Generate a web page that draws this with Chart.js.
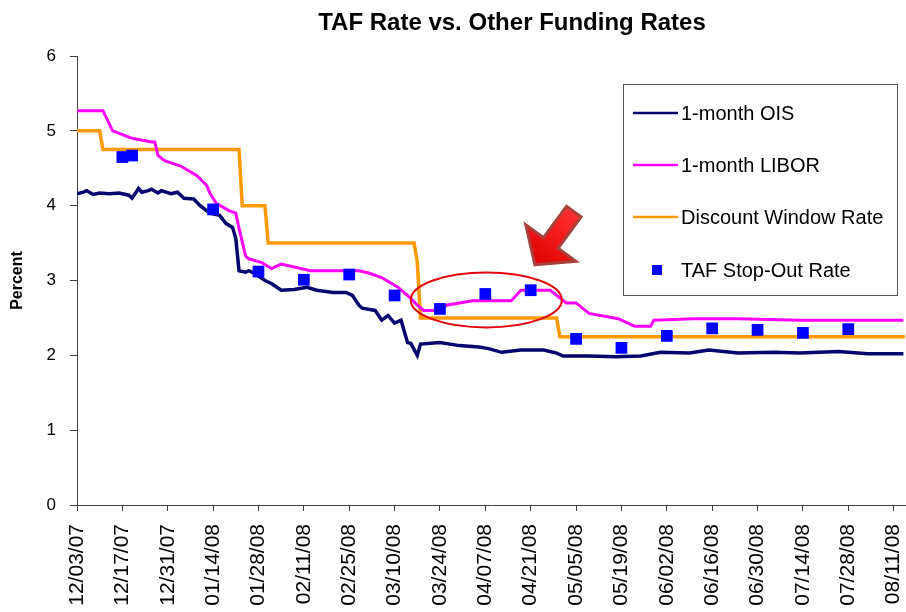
<!DOCTYPE html>
<html>
<head>
<meta charset="utf-8">
<title>TAF Rate vs. Other Funding Rates</title>
<script src="https://cdn.jsdelivr.net/npm/chart.js@4.4.1/dist/chart.umd.min.js"></script>
<style>
  html, body { margin: 0; padding: 0; background: #fff; }
  #wrap { width: 906px; height: 612px; }
</style>
</head>
<body>
<div id="wrap"><canvas id="tafChart" width="906" height="612"></canvas></div>
<script>
// x values are days counted from 12/03/07
const tickDays = [0, 14, 28, 42, 56, 70, 84, 98, 112, 126, 140, 154, 168, 182, 196, 210, 224, 238, 252];
const tickLabels = ['12/03/07', '12/17/07', '12/31/07', '01/14/08', '01/28/08', '02/11/08', '02/25/08',
  '03/10/08', '03/24/08', '04/07/08', '04/21/08', '05/05/08', '05/19/08', '06/02/08', '06/16/08',
  '06/30/08', '07/14/08', '07/28/08', '08/11/08'];

const oisDays = [0, 2, 3, 5, 7, 10, 13, 16, 17, 19, 20, 22, 23, 25, 26, 29, 31, 33, 36, 38,
  41, 44, 46, 48, 49, 50, 52, 53, 55, 58, 60, 63, 67, 71, 74, 79, 83, 85, 87, 88,
  92, 94, 96, 98, 100, 102, 103, 105, 106, 112, 118, 124, 127, 131, 137, 144, 148, 150, 158, 166,
  174, 180, 189, 195, 204, 215, 223, 235, 244, 255];
const oisRates = [4.16, 4.18, 4.20, 4.15, 4.17, 4.16, 4.17, 4.14, 4.10, 4.23, 4.18, 4.20, 4.22, 4.17, 4.20, 4.16, 4.18, 4.10, 4.09, 4.00,
  3.90, 3.87, 3.76, 3.71, 3.56, 3.13, 3.11, 3.13, 3.09, 3.00, 2.96, 2.87, 2.88, 2.91, 2.87, 2.84, 2.84, 2.80, 2.67, 2.63,
  2.60, 2.47, 2.53, 2.43, 2.47, 2.17, 2.16, 2.00, 2.15, 2.17, 2.13, 2.11, 2.09, 2.04, 2.07, 2.07, 2.03, 1.99, 1.99, 1.98,
  1.99, 2.04, 2.03, 2.07, 2.03, 2.04, 2.03, 2.05, 2.02, 2.02];

const liborDays = [0, 8, 11, 17, 23, 24, 25, 27, 32, 37, 40, 41, 43, 47, 49, 50, 52, 53, 57, 60,
  63, 69, 72, 87, 90, 94, 99, 103, 105, 107, 112, 114, 122, 134, 137, 146, 151, 154, 158, 167,
  172, 177, 178, 190, 204, 223, 255];
const liborRates = [5.27, 5.27, 5.00, 4.90, 4.85, 4.85, 4.67, 4.60, 4.53, 4.40, 4.27, 4.17, 4.03, 3.93, 3.90, 3.70, 3.33, 3.29, 3.24, 3.16,
  3.22, 3.16, 3.13, 3.13, 3.10, 3.04, 2.91, 2.76, 2.67, 2.60, 2.60, 2.67, 2.73, 2.73, 2.87, 2.87, 2.70, 2.70, 2.56, 2.49,
  2.39, 2.39, 2.47, 2.49, 2.49, 2.47, 2.47];

const discDays = [0, 7, 8, 50, 51, 58, 59, 104, 105, 106, 148, 149, 255.5];
const discRates = [5.00, 5.00, 4.75, 4.75, 4.00, 4.00, 3.50, 3.50, 3.25, 2.50, 2.50, 2.25, 2.25];

const tafDays = [14, 17, 42, 56, 70, 84, 98, 112, 126, 140, 154, 168, 182, 196, 210, 224, 238];
const tafRates = [4.65, 4.67, 3.95, 3.12, 3.01, 3.08, 2.80, 2.62, 2.82, 2.87, 2.22, 2.10, 2.26, 2.36, 2.34, 2.30, 2.35];

function toPoints(days, vals) {
  return days.map((d, i) => ({ x: d, y: vals[i] }));
}

const FONT = "'Liberation Sans', Arial, sans-serif";

const decor = {
  id: 'decor',
  afterDatasetsDraw(chart) {
    const ctx = chart.ctx;
    const xs = chart.scales.x, ys = chart.scales.y;

    // ellipse round the April auctions
    const cx = xs.getPixelForValue(126.3), cy = ys.getPixelForValue(2.74);
    const rx = xs.getPixelForValue(149.6) - cx;
    const ry = cy - ys.getPixelForValue(3.107);
    ctx.save();
    ctx.beginPath();
    ctx.ellipse(cx, cy, rx, ry, 0, 0, Math.PI * 2);
    ctx.strokeStyle = '#e3070d';
    ctx.lineWidth = 2;
    ctx.stroke();

    // arrow pointing at it
    const tx = xs.getPixelForValue(141.3), ty = ys.getPixelForValue(3.21);
    const dx = 0.589, dy = -0.807, px = 0.807, py = 0.589;
    const head = 27, wing = 31, shaft = 9, len = 66;
    const bx = tx + dx * head, by = ty + dy * head;
    const ex = tx + dx * len, ey = ty + dy * len;
    const pts = [
      [tx, ty],
      [bx + px * wing, by + py * wing],
      [bx + px * shaft, by + py * shaft],
      [ex + px * shaft, ey + py * shaft],
      [ex - px * shaft, ey - py * shaft],
      [bx - px * shaft, by - py * shaft],
      [bx - px * wing, by - py * wing]
    ];
    ctx.beginPath();
    pts.forEach((p, i) => i ? ctx.lineTo(p[0], p[1]) : ctx.moveTo(p[0], p[1]));
    ctx.closePath();
    const g = ctx.createLinearGradient(ex, ey, tx, ty);
    g.addColorStop(0, '#ff3030');
    g.addColorStop(1, '#e00000');
    ctx.fillStyle = g;
    ctx.fill();
    ctx.strokeStyle = '#a8403c';
    ctx.lineWidth = 3;
    ctx.lineJoin = 'miter';
    ctx.stroke();
    ctx.restore();
  },
  afterDraw(chart) {
    const ctx = chart.ctx;
    ctx.save();
    // title
    ctx.fillStyle = '#000';
    ctx.font = 'bold 24px ' + FONT;
    ctx.textAlign = 'center';
    ctx.textBaseline = 'middle';
    ctx.fillText('TAF Rate vs. Other Funding Rates', 512, 23);

    // legend box
    ctx.strokeStyle = '#555';
    ctx.lineWidth = 1;
    ctx.strokeRect(623.5, 84.5, 274, 211);
    const rows = [113, 165, 217, 270];
    ctx.font = '20px ' + FONT;
    ctx.textAlign = 'left';
    chart.data.datasets.forEach((ds, i) => {
      const y = rows[i];
      if (ds.showLine === false) {
        ctx.fillStyle = ds.backgroundColor;
        ctx.fillRect(652, y - 5, 10, 10);
      } else {
        ctx.strokeStyle = ds.borderColor;
        ctx.lineWidth = 2.5;
        ctx.beginPath();
        ctx.moveTo(633, y);
        ctx.lineTo(678, y);
        ctx.stroke();
      }
      ctx.fillStyle = '#000';
      ctx.fillText(ds.label, 681, y + 1);
    });
    ctx.restore();
  }
};

new Chart(document.getElementById('tafChart'), {
  type: 'line',
  data: {
    datasets: [
      {
        label: '1-month OIS',
        data: toPoints(oisDays, oisRates),
        borderColor: '#06066e',
        borderWidth: 3.5,
        pointRadius: 0,
        order: 1
      },
      {
        label: '1-month LIBOR',
        data: toPoints(liborDays, liborRates),
        borderColor: '#ff00ff',
        borderWidth: 3,
        pointRadius: 0,
        order: 2
      },
      {
        label: 'Discount Window Rate',
        data: toPoints(discDays, discRates),
        borderColor: '#ff9900',
        borderWidth: 3.5,
        pointRadius: 0,
        order: 3
      },
      {
        label: 'TAF Stop-Out Rate',
        data: toPoints(tafDays, tafRates),
        showLine: false,
        backgroundColor: '#0000ff',
        borderColor: '#0000ff',
        borderWidth: 0,
        pointStyle: 'rect',
        pointRadius: 8.3,
        order: 0
      }
    ]
  },
  plugins: [decor],
  options: {
    responsive: false,
    animation: false,
    layout: { autoPadding: false, padding: { top: 56, right: 1, left: 0, bottom: 0 } },
    plugins: {
      legend: { display: false },
      title: { display: false },
      tooltip: { enabled: false }
    },
    scales: {
      x: {
        type: 'linear',
        min: 0,
        max: 255.5,
        afterFit(scale) {
          scale.height = 107;
          scale.paddingLeft = 0;
          scale.paddingRight = 0;
        },
        afterBuildTicks(scale) { scale.ticks = tickDays.map(v => ({ value: v })); },
        grid: { drawOnChartArea: false, tickLength: 6, color: '#404040' },
        border: { color: '#404040', width: 1 },
        ticks: {
          autoSkip: false,
          maxRotation: 90,
          minRotation: 90,
          padding: 13,
          color: '#000',
          font: { family: FONT, size: 21 },
          callback(v) {
            const i = tickDays.indexOf(v);
            return i >= 0 ? tickLabels[i] : '';
          }
        }
      },
      y: {
        min: 0,
        max: 6,
        afterFit(scale) {
          scale.width = 77;
          scale.paddingTop = 0;
          scale.paddingBottom = 0;
        },
        grid: { drawOnChartArea: false, tickLength: 7, color: '#404040' },
        border: { color: '#404040', width: 1 },
        ticks: {
          stepSize: 1,
          padding: 14,
          color: '#000',
          font: { family: FONT, size: 17 }
        },
        title: {
          display: true,
          text: 'Percent',
          color: '#000',
          padding: { top: 8, bottom: 0 },
          font: { family: FONT, size: 16, weight: 'bold' }
        }
      }
    }
  }
});
</script>
</body>
</html>
